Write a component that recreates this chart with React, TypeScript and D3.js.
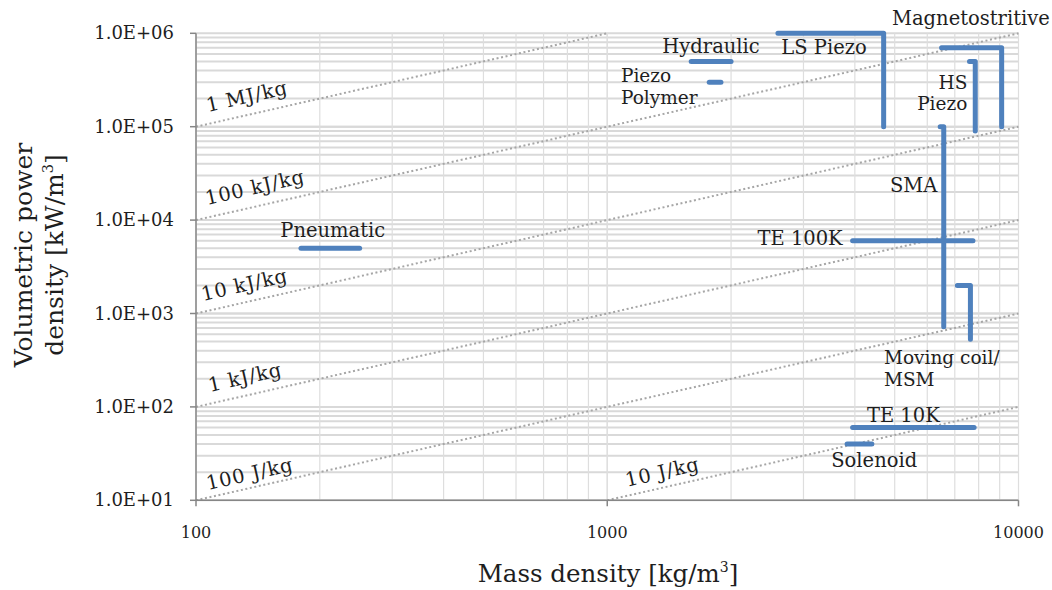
import React from "react";
import * as d3 from "d3";

// ---------- data ----------
const xTickValues = [100, 1000, 10000];
const xTickLabels = ["100", "1000", "10000"];
const yTickValues = [1e1, 1e2, 1e3, 1e4, 1e5, 1e6];
const yTickLabels = ["1.0E+01", "1.0E+02", "1.0E+03", "1.0E+04", "1.0E+05", "1.0E+06"];

// actuator technologies: [mass density kg/m3, volumetric power kW/m3]
const pneumatic = [[180, 5000], [250, 5000]];
const hydraulic = [[1600, 5e5], [2000, 5e5]];
const piezoPolymer = [[1770, 3e5], [1890, 3e5]];
const lsPiezo = [[2600, 1e6], [4700, 1e6], [4700, 1e5]];
const magnetostrictive = [[6500, 7e5], [9100, 7e5], [9100, 1e5]];
const hsPiezo = [[7600, 5e5], [7850, 5e5], [7850, 9e4]];
const sma = [[6450, 1e5], [6580, 1e5], [6580, 720]];
const te100k = [[3950, 6000], [7750, 6000]];
const movingCoil = [[7100, 2000], [7640, 2000], [7640, 530]];
const te10k = [[3950, 60], [7800, 60]];
const solenoid = [[3830, 40], [4400, 40]];

const seriesList = [pneumatic, hydraulic, piezoPolymer, lsPiezo, magnetostrictive, hsPiezo, sma, te100k, movingCoil, te10k, solenoid];

// label text lines, anchor point (data units), text-anchor
const seriesLabels = [
  { lines: ["Pneumatic"], x: 215, y: 6640, anchor: "middle" },
  { lines: ["Hydraulic"], x: 1788, y: 6.2e5, anchor: "middle" },
  { lines: ["Piezo", "Polymer"], x: 1080, y: 3.0e5, anchor: "start" },
  { lines: ["LS Piezo"], x: 2650, y: 6e5, anchor: "start" },
  { lines: ["Magnetostritive"], x: 4925, y: 1.23e6, anchor: "start" },
  { lines: ["HS", "Piezo"], x: 7510, y: 2.55e5, anchor: "end" },
  { lines: ["SMA"], x: 6350, y: 2e4, anchor: "end" },
  { lines: ["TE 100K"], x: 3737, y: 5400, anchor: "end" },
  { lines: ["Moving coil/", "MSM"], x: 4709, y: 286, anchor: "start" },
  { lines: ["TE 10K"], x: 5248, y: 69.4, anchor: "middle" },
  { lines: ["Solenoid"], x: 4458, y: 22.5, anchor: "middle" },
];

// constant specific-energy lines: power = k * mass density
const energyNames = ["1 MJ/kg", "100 kJ/kg", "10 kJ/kg", "1 kJ/kg", "100 J/kg", "10 J/kg"];
const energyFactors = [1000, 100, 10, 1, 0.1, 0.01];
const energyLabelStart = [106.9, 106.4, 104, 108.2, 106.9, 1117];
const energyLabelLift = [12, 12.6, 11, 11.7, 7.5, 9];

// ---------- layout ----------
const W = 1052;
const H = 590;
const plotLeft = 196;
const plotRight = 1018.5;
const plotTop = 33.3;
const plotBottom = 500.3;

const FONT = "DejaVu Serif";
const BLUE = "#4f81bd";
const INK = "#1e1e1e";

export default function App() {
  const x = d3.scaleLog().domain([100, 10000]).range([plotLeft, plotRight]);
  const y = d3.scaleLog().domain([10, 1e6]).range([plotBottom, plotTop]);

  const xMinor: number[] = [];
  for (let d = 100; d < 10000; d *= 10) for (let m = 1; m <= 10; m++) xMinor.push(d * m);
  const yMinor: number[] = [];
  for (let d = 10; d < 1e6; d *= 10) for (let m = 1; m <= 10; m++) yMinor.push(d * m);

  const line = d3
    .line<number[]>()
    .x((d) => x(d[0]))
    .y((d) => y(d[1]));

  // angle of a constant specific-energy line on screen (negative = rising)
  const angle = (Math.atan2(y(100) - y(10), x(1000) - x(100)) * 180) / Math.PI;

  const energySeg = (k: number) => {
    const x0 = Math.max(100, 10 / k);
    const x1 = Math.min(10000, 1e6 / k);
    return [[x0, x0 * k], [x1, x1 * k]];
  };

  const lineGap = 21.5;

  return (
    <svg
      width={W}
      height={H}
      style={{ position: "absolute", left: 0, top: 0, background: "#fff" }}
      fontFamily={FONT}
    >
      <rect x={0} y={0} width={W} height={H} fill="#fff" />
      {/* gridlines */}
      <g>
        {yMinor.map((v, i) => (
          <line key={"gy" + i} x1={plotLeft} x2={plotRight} y1={y(v)} y2={y(v)} stroke="#d9d9d9" strokeWidth={2} />
        ))}
        {xMinor.map((v, i) => (
          <line key={"gx" + i} x1={x(v)} x2={x(v)} y1={plotTop} y2={plotBottom} stroke="#dedede" strokeWidth={1.2} />
        ))}
      </g>
      {/* energy lines */}
      <g>
        {energyFactors.map((k, i) => (
          <path
            key={"e" + i}
            d={line(energySeg(k)) || ""}
            fill="none"
            stroke="#a6a6a6"
            strokeWidth={2}
            strokeDasharray="2 2.6"
          />
        ))}
        {energyNames.map((name, i) => {
          const mx = energyLabelStart[i];
          const px = x(mx);
          const py = y(mx * energyFactors[i]) - energyLabelLift[i];
          return (
            <text
              key={"el" + i}
              transform={`translate(${px},${py}) rotate(${angle})`}
              fontSize={19.5}
              letterSpacing={0.8}
              fill={INK}
            >
              {name}
            </text>
          );
        })}
      </g>
      {/* axes */}
      <g stroke="#868686" strokeWidth={1.5}>
        <line x1={plotLeft} x2={plotLeft} y1={plotTop} y2={plotBottom} />
        <line x1={plotLeft} x2={plotRight} y1={plotBottom} y2={plotBottom} />
        {yTickValues.map((v, i) => (
          <line key={"yt" + i} x1={plotLeft - 6} x2={plotLeft} y1={y(v)} y2={y(v)} />
        ))}
        {xTickValues.map((v, i) => (
          <line key={"xt" + i} x1={x(v)} x2={x(v)} y1={plotBottom} y2={plotBottom + 6} />
        ))}
      </g>
      {yTickValues.map((v, i) => (
        <text key={"ytl" + i} x={174} y={y(v) + 6} textAnchor="end" fontSize={18} fill={INK}>
          {yTickLabels[i]}
        </text>
      ))}
      {xTickValues.map((v, i) => (
        <text key={"xtl" + i} x={x(v)} y={538} textAnchor="middle" fontSize={16} fill={INK}>
          {xTickLabels[i]}
        </text>
      ))}
      {/* axis titles */}
      <text x={608} y={582} textAnchor="middle" fontSize={24.5} fill={INK}>
        Mass density [kg/m<tspan dy={-10} fontSize={14}>3</tspan>
        <tspan dy={10}>]</tspan>
      </text>
      <g transform="translate(0,255) rotate(-90)">
        <text x={0} y={32} textAnchor="middle" fontSize={25} fill={INK}>
          Volumetric power
        </text>
        <text x={0} y={63} textAnchor="middle" fontSize={25} fill={INK}>
          density [kW/m<tspan dy={-10} fontSize={14.5}>3</tspan>
          <tspan dy={10}>]</tspan>
        </text>
      </g>
      {/* series */}
      <g>
        {seriesList.map((s, i) => (
          <path
            key={"s" + i}
            d={line(s as number[][]) || ""}
            fill="none"
            stroke={BLUE}
            strokeWidth={5}
            strokeLinecap="round"
            strokeLinejoin="round"
          />
        ))}
      </g>
      {/* series labels */}
      <g>
        {seriesLabels.map((l, i) => (
          <text
            key={"sl" + i}
            x={x(l.x)}
            y={y(l.y)}
            textAnchor={l.anchor as any}
            fontSize={l.lines.length > 1 ? 18.5 : 19.5}
            fill={INK}
          >
            {l.lines.map((t, j) => (
              <tspan key={j} x={x(l.x)} dy={j === 0 ? 0 : lineGap}>
                {t}
              </tspan>
            ))}
          </text>
        ))}
      </g>
    </svg>
  );
}
